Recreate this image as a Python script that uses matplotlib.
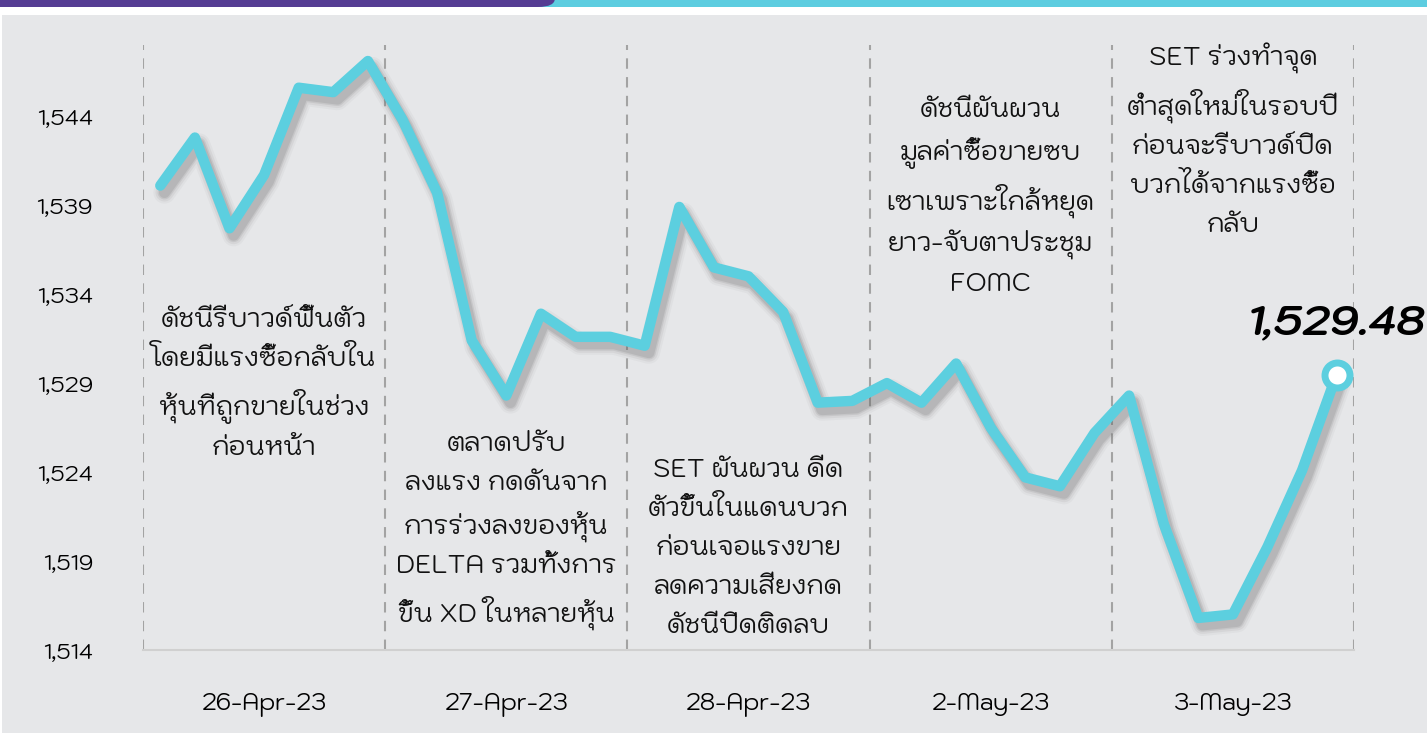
import numpy as np
import matplotlib
matplotlib.use("Agg")
import matplotlib.pyplot as plt
import matplotlib.patheffects as pe
from matplotlib.patches import Rectangle, FancyBboxPatch

# --- data ---
dates = ["26-Apr-23", "27-Apr-23", "28-Apr-23", "2-May-23", "3-May-23"]
set_index = [
    1540.1, 1542.8, 1537.7, 1540.7, 1545.6, 1545.35, 1547.1,
    1543.8, 1539.7, 1531.4, 1528.3, 1532.9, 1531.6, 1531.6,
    1531.1, 1538.9, 1535.5, 1535.0, 1533.0, 1527.9, 1528.0,
    1529.0, 1527.9, 1530.1, 1526.5, 1523.7, 1523.2, 1526.2,
    1528.3, 1521.1, 1515.8, 1516.0, 1519.8, 1524.1, 1529.48,
]
points_per_day = 7
yticks = [1514, 1519, 1524, 1529, 1534, 1539, 1544]
notes = [
    "ดัชนีรีบาวด์ฟื้นตัว\nโดยมีแรงซื้อกลับใน\nหุ้นที่ถูกขายในช่วง\nก่อนหน้า",
    "ตลาดปรับ\nลงแรง กดดันจาก\nการร่วงลงของหุ้น\nDELTA รวมทั้งการ\nขึ้น XD ในหลายหุ้น",
    "SET ผันผวน ดีด\nตัวขึ้นในแดนบวก\nก่อนเจอแรงขาย\nลดความเสี่ยงกด\nดัชนีปิดติดลบ",
    "ดัชนีผันผวน\nมูลค่าซื้อขายซบ\nเซาเพราะใกล้หยุด\nยาว-จับตาประชุม\nFOMC",
    "SET ร่วงทำจุด\nต่ำสุดใหม่ในรอบปี\nก่อนจะรีบาวด์ปิด\nบวกได้จากแรงซื้อ\nกลับ",
]
note_y = [1528.9, 1520.7, 1519.7, 1539.4, 1542.6]

plt.rcParams["font.family"] = ["Kodchasan", "DejaVu Sans"]

line_c = "#5ccfdf"
bg = "#e6e7e9"

fig = plt.figure(figsize=(14.27, 7.33), dpi=100, facecolor="white")
fig.patches.append(Rectangle((2 / 1427, 0), 1, 1 - 15 / 733, transform=fig.transFigure,
                             facecolor=bg, edgecolor="none", zorder=-3))
fig.patches.append(Rectangle((0, 1 - 7 / 733), 1, 7 / 733, transform=fig.transFigure,
                             facecolor="#5dcde0", edgecolor="none", zorder=-2))
fig.patches.append(FancyBboxPatch((-0.02, 1 - 7 / 733), 555 / 1427 + 0.02, 0.02,
                                  boxstyle="round,pad=0,rounding_size=0.012",
                                  transform=fig.transFigure,
                                  facecolor="#553c93", edgecolor="none", zorder=-1))

ax = fig.add_axes([143 / 1427, 83 / 733, 1211 / 1427, 605 / 733])
ax.set_facecolor("none")
x = np.arange(len(set_index))
ax.set_xlim(-0.5, len(set_index) - 0.5)
ax.set_ylim(1514, 1548)

for b in range(len(dates) + 1):
    ax.axvline(b * points_per_day - 0.5, color="#a3a3a3", lw=1.5, ls=(0, (5, 4)), zorder=1)

# soft drop shadow: stacked translucent strokes
shadow = [pe.SimpleLineShadow(offset=(3, -5), shadow_color="#606060", alpha=a, linewidth=w)
          for w, a in [(16, 0.05), (13, 0.08), (10, 0.12), (8, 0.15)]]
shadow.append(pe.Normal())
ax.plot(x, set_index, color=line_c, lw=7.5, solid_joinstyle="round", solid_capstyle="round",
        path_effects=shadow, zorder=3)
ax.plot(x[-1], set_index[-1], "o", ms=18, mfc="white", mec=line_c, mew=5, zorder=4)
ax.annotate(f"{set_index[-1]:,.2f}", (x[-1], set_index[-1]), xytext=(0, 36),
            textcoords="offset points", ha="center", va="center",
            fontsize=30, fontweight="bold", fontstyle="italic", color="black", zorder=5)

for i, (t, yv) in enumerate(zip(notes, note_y)):
    ax.text(i * points_per_day + 3, yv, t, ha="center", va="center", fontsize=18.5,
            linespacing=1.55, color="#111111", zorder=2)

ax.set_xticks([i * points_per_day + 3 for i in range(len(dates))])
ax.set_xticklabels(dates, fontsize=17)
ax.set_yticks(yticks)
ax.set_yticklabels([f"{v:,}" for v in yticks], fontsize=16)
ax.tick_params(axis="x", length=0, pad=30)
ax.tick_params(axis="y", length=0, pad=36)
for s in ["left", "top", "right"]:
    ax.spines[s].set_visible(False)
ax.spines["bottom"].set_color("#d0d0d0")
ax.spines["bottom"].set_linewidth(1.5)

fig.savefig("out.png", dpi=100, facecolor=fig.get_facecolor())
